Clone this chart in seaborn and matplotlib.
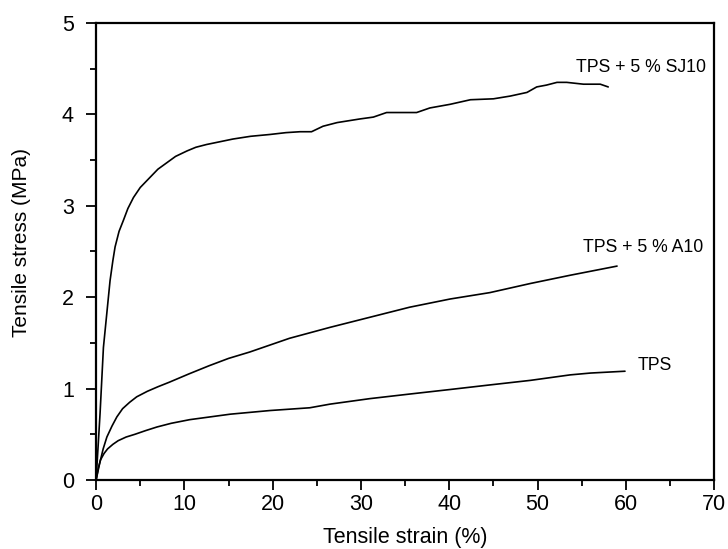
import numpy as np
import pandas as pd
import matplotlib
matplotlib.use("Agg")
import matplotlib.pyplot as plt
import seaborn as sns
from matplotlib.ticker import MultipleLocator

# Data
sj10_strain = [0, 0.45, 0.83, 1.21, 1.58, 1.9, 2.15, 2.6, 3.09, 3.6, 4.23, 5.0, 6.1, 7.0,
               8.0, 9.0, 10.3, 11.3, 12.5, 14.0, 15.5, 17.5, 19.7, 21.5, 23.1, 24.4,
               25.7, 27.3, 29.9, 31.4, 32.9, 36.3, 37.8, 40.1, 42.4,
               45.0, 46.9, 48.8, 49.9, 51.0, 52.2, 53.3, 55.2, 57.1, 58.0]
sj10_stress = [0, 0.73, 1.45, 1.82, 2.18, 2.40, 2.55, 2.72, 2.84, 2.97, 3.09, 3.20, 3.31, 3.40,
               3.47, 3.54, 3.60, 3.64, 3.67, 3.70, 3.73, 3.76, 3.78, 3.80, 3.81, 3.81,
               3.87, 3.91, 3.95, 3.97, 4.02, 4.02, 4.07, 4.11, 4.16,
               4.17, 4.20, 4.24, 4.30, 4.32, 4.35, 4.35, 4.33, 4.33, 4.30]

a10_strain = [0, 0.4, 0.8, 1.22, 1.8, 2.35, 3.0, 3.8, 4.6, 5.8, 7.0, 8.3, 10.5, 12.8, 15.0,
              17.4, 21.9, 26.5, 31.0, 35.5, 40.1, 44.6, 49.2, 53.7, 59.0]
a10_stress = [0, 0.18, 0.34, 0.47, 0.59, 0.69, 0.78, 0.85, 0.91, 0.97, 1.02, 1.07, 1.16, 1.25, 1.33,
              1.40, 1.55, 1.67, 1.78, 1.89, 1.98, 2.05, 2.15, 2.24, 2.34]

tps_strain = [0, 0.25, 0.5, 0.9, 1.3, 1.9, 2.5, 3.4, 4.4, 5.6, 6.9, 8.5, 10.6, 15.2, 19.7, 24.2,
              26.5, 31.0, 35.5, 40.1, 44.6, 49.2, 53.7, 56.0, 59.9]
tps_stress = [0, 0.13, 0.22, 0.29, 0.34, 0.39, 0.43, 0.47, 0.50, 0.54, 0.58, 0.62, 0.66, 0.72,
              0.76, 0.79, 0.83, 0.89, 0.94, 0.99, 1.04, 1.09, 1.15, 1.17, 1.19]

labels = ["TPS + 5 % SJ10", "TPS + 5 % A10", "TPS"]
label_pos = [(54.4, 4.51), (55.2, 2.54), (61.3, 1.25)]

sns.set_style("ticks")
plt.rcParams['font.family'] = ['Liberation Sans', 'DejaVu Sans']
plt.rcParams['text.color'] = 'black'
plt.rcParams['axes.labelcolor'] = 'black'
plt.rcParams['xtick.color'] = 'black'
plt.rcParams['ytick.color'] = 'black'

fig = plt.figure(figsize=(7.28, 5.49), dpi=100)
ax = fig.add_axes([0.132, 0.1257, 0.849, 0.8325])

series = [(sj10_strain, sj10_stress), (a10_strain, a10_stress), (tps_strain, tps_stress)]
for (xs, ys), lab in zip(series, labels):
    df = pd.DataFrame({"strain": xs, "stress": ys})
    sns.lineplot(data=df, x="strain", y="stress", ax=ax, color="black",
                 linewidth=1.2, sort=False, estimator=None)

for lab, (lx, ly) in zip(labels, label_pos):
    ax.text(lx, ly, lab, fontsize=12.7, va="center", ha="left", color="black")

ax.set_xlim(0, 70)
ax.set_ylim(0, 5)
ax.xaxis.set_major_locator(MultipleLocator(10))
ax.xaxis.set_minor_locator(MultipleLocator(5))
ax.yaxis.set_major_locator(MultipleLocator(1))
ax.yaxis.set_minor_locator(MultipleLocator(0.5))
ax.tick_params(which="major", direction="out", length=7, width=1.3, labelsize=15.5,
               colors="black", labelcolor="black", top=False, right=False)
ax.tick_params(which="minor", direction="out", length=4, width=1.3, top=False, right=False)
ax.tick_params(axis="y", pad=9)
ax.tick_params(axis="x", pad=3)
for s in ax.spines.values():
    s.set_visible(True)
    s.set_linewidth(1.6)
    s.set_color("black")

ax.set_xlabel("Tensile strain (%)", fontsize=15.5, labelpad=9, color="black")
ax.set_ylabel("Tensile stress (MPa)", fontsize=15, labelpad=12, color="black")
ax.yaxis.set_label_coords(-0.105, 0.52)

fig.savefig("out.png", dpi=100, facecolor="white")
